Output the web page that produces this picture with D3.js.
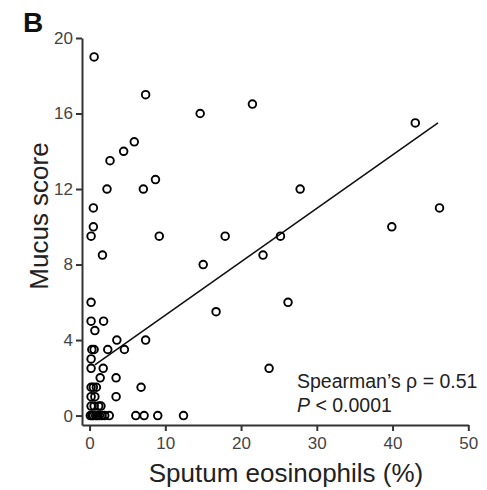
<!DOCTYPE html>
<html>
<head>
<meta charset="utf-8">
<script src="https://cdn.jsdelivr.net/npm/d3@7"></script>
<style>
  html, body { margin: 0; padding: 0; background: #fff; }
  svg { display: block; }
  text { font-family: "Liberation Sans", Arial, Helvetica, sans-serif; }
</style>
</head>
<body>
<svg id="chart" width="487" height="490"></svg>
<script>
// Sputum eosinophils (%) — x values
const eosinophils = [
  0.6, 7.4, 21.5, 14.6, 43.0, 5.9, 4.5, 2.7, 8.7, 2.3, 7.1, 27.8,
  0.5, 46.2, 0.5, 39.9, 0.2, 9.2, 17.9, 25.2, 1.7, 22.9, 15.0,
  0.2, 26.2, 16.7, 0.2, 1.85, 0.7, 3.6, 7.4,
  0.3, 0.6, 2.4, 4.6, 0.2, 0.2, 1.8, 23.7, 1.4, 3.5, 6.8, 3.5,
  0.2, 0.5, 0.9, 0.2, 0.7, 0.2, 0.6, 1.2, 1.5,
  0.1, 0.3, 0.5, 0.8, 1.0, 1.3, 1.6, 2.0, 2.6, 6.1, 7.2, 9.0, 12.4
];
// Mucus score — y values
const mucusScore = [
  19.0, 17.0, 16.5, 16.0, 15.5, 14.5, 14.0, 13.5, 12.5, 12.0, 12.0, 12.0,
  11.0, 11.0, 10.0, 10.0, 9.5, 9.5, 9.5, 9.5, 8.5, 8.5, 8.0,
  6.0, 6.0, 5.5, 5.0, 5.0, 4.5, 4.0, 4.0,
  3.5, 3.5, 3.5, 3.5, 3.0, 2.5, 2.5, 2.5, 2.0, 2.0, 1.5, 1.0,
  1.5, 1.5, 1.5, 1.0, 1.0, 0.5, 0.5, 0.5, 0.5,
  0.0, 0.0, 0.0, 0.0, 0.0, 0.0, 0.0, 0.0, 0.0, 0.0, 0.0, 0.0, 0.0
];
// Fitted line endpoints (x, y)
const fitX = [0.7, 46.0];
const fitY = [2.68, 15.5];

const xTicks = [0, 10, 20, 30, 40, 50];
const yTicks = [0, 4, 8, 12, 16, 20];

const panelLabel = "B";
const xTitle = "Sputum eosinophils (%)";
const yTitle = "Mucus score";
const statLine1 = "Spearman\u2019s \u03C1 = 0.51";

const svg = d3.select("#chart");

const x = d3.scaleLinear().domain([-1, 50]).range([82, 468.3]);
const y = d3.scaleLinear().domain([-0.5, 20]).range([425, 38]);

const axisColor = "#333";

// X axis
const gx = svg.append("g")
  .attr("transform", `translate(0,${y(-0.5)})`)
  .call(d3.axisBottom(x).tickValues(xTicks).tickSizeOuter(0).tickSizeInner(6).tickPadding(6));
// Y axis
const gy = svg.append("g")
  .attr("transform", `translate(${x(-1)},0)`)
  .call(d3.axisLeft(y).tickValues(yTicks).tickSizeOuter(0).tickSizeInner(6).tickPadding(3));

[gx, gy].forEach(g => {
  g.select(".domain").attr("stroke", axisColor).attr("stroke-width", 2);
  g.selectAll(".tick line").attr("stroke", axisColor).attr("stroke-width", 2);
  g.selectAll(".tick text")
    .attr("fill", "#444")
    .style("font-size", "17px")
    .style("font-family", "'Liberation Sans', Arial, sans-serif");
});

// Regression line
svg.append("line")
  .attr("x1", x(fitX[0])).attr("y1", y(fitY[0]))
  .attr("x2", x(fitX[1])).attr("y2", y(fitY[1]))
  .attr("stroke", "#111").attr("stroke-width", 1.6);

// Points
const pts = eosinophils.map((v, i) => ({ x: v, y: mucusScore[i] }));
svg.append("g").selectAll("circle")
  .data(pts).enter().append("circle")
  .attr("cx", d => x(d.x))
  .attr("cy", d => y(d.y))
  .attr("r", 3.8)
  .attr("fill", "none")
  .attr("stroke", "#000")
  .attr("stroke-width", 1.9);

// Panel label
svg.append("text")
  .attr("x", 23).attr("y", 32)
  .style("font-size", "28px").style("font-weight", "bold")
  .attr("fill", "#111")
  .text(panelLabel);

// Axis titles
svg.append("text")
  .attr("x", 286).attr("y", 482)
  .attr("text-anchor", "middle")
  .style("font-size", "26px")
  .attr("fill", "#222")
  .text(xTitle);

svg.append("text")
  .attr("transform", "translate(48,216) rotate(-90)")
  .attr("text-anchor", "middle")
  .style("font-size", "26px")
  .attr("fill", "#222")
  .text(yTitle);

// Stats annotation
svg.append("text")
  .attr("x", 297).attr("y", 388)
  .style("font-size", "19.5px")
  .attr("fill", "#222")
  .text(statLine1);

const t2 = svg.append("text")
  .attr("x", 297).attr("y", 412)
  .style("font-size", "19.5px")
  .attr("fill", "#222");
t2.append("tspan").style("font-style", "italic").text("P");
t2.append("tspan").text(" < 0.0001");
</script>
</body>
</html>
